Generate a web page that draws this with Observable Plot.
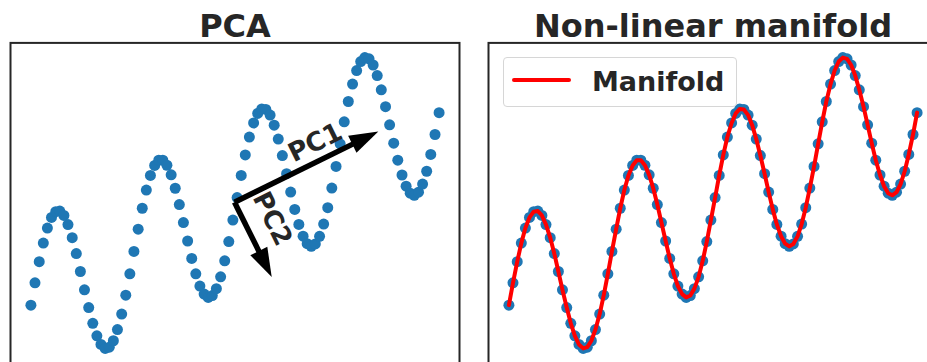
<!DOCTYPE html>
<html>
<head>
<meta charset="utf-8">
<script src="https://cdn.jsdelivr.net/npm/d3@7"></script>
<script src="https://cdn.jsdelivr.net/npm/@observablehq/plot@0.6"></script>
<style>
  html, body { margin: 0; padding: 0; background: #fff; overflow: hidden; }
  #wrap { position: relative; width: 927px; height: 362px; overflow: hidden; font-family: "DejaVu Sans", sans-serif; }
  .panel { position: absolute; top: 0; }
  .legend { position: absolute; left: 503px; top: 57px; width: 232px; height: 48px;
            border: 1px solid #d6d6d6; border-radius: 4px; background: rgba(255,255,255,0.85); }
  .legend .swatch { position: absolute; left: 8px; top: 20px; width: 59px; height: 3.5px; background: #ff0000; border-radius: 2px; }
  .legend .label { position: absolute; left: 88px; top: 7px; font: bold 27px "DejaVu Sans", sans-serif; color: #262626; line-height: 34px; }
</style>
</head>
<body>
<div id="wrap"></div>
<script>
// ---- data ----
const xs = [0, 0.25, 0.51, 0.76, 1.01, 1.26, 1.52, 1.77, 2.02, 2.27, 2.53, 2.78, 3.03, 3.28, 3.54, 3.79, 4.04, 4.29, 4.55, 4.80,
  5.05, 5.30, 5.56, 5.81, 6.06, 6.31, 6.57, 6.82, 7.07, 7.32, 7.58, 7.83, 8.08, 8.33, 8.59, 8.84, 9.09, 9.34, 9.60, 9.85,
  10.10, 10.35, 10.61, 10.86, 11.11, 11.36, 11.62, 11.87, 12.12, 12.37, 12.63, 12.88, 13.13, 13.38, 13.64, 13.89, 14.14, 14.39, 14.65, 14.90,
  15.15, 15.40, 15.66, 15.91, 16.16, 16.41, 16.67, 16.92, 17.17, 17.42, 17.68, 17.93, 18.18, 18.43, 18.69, 18.94, 19.19, 19.44, 19.70, 19.95,
  20.20, 20.45, 20.71, 20.96, 21.21, 21.46, 21.72, 21.97, 22.22, 22.47, 22.73, 22.98, 23.23, 23.48, 23.74, 23.99, 24.24, 24.49, 24.75, 25.00];
const ys = [0.000, 0.275, 0.535, 0.763, 0.948, 1.079, 1.150, 1.157, 1.103, 0.991, 0.830, 0.634, 0.414, 0.188, -0.030, -0.223, -0.378, -0.484, -0.532, -0.517,
  -0.438, -0.300, -0.110, 0.123, 0.385, 0.661, 0.935, 1.192, 1.416, 1.595, 1.719, 1.783, 1.783, 1.721, 1.603, 1.438, 1.237, 1.016, 0.789, 0.574,
  0.385, 0.235, 0.136, 0.095, 0.118, 0.203, 0.348, 0.545, 0.782, 1.046, 1.323, 1.595, 1.848, 2.068, 2.241, 2.358, 2.414, 2.407, 2.338, 2.214,
  2.043, 1.840, 1.617, 1.391, 1.178, 0.993, 0.848, 0.756, 0.723, 0.753, 0.846, 0.997, 1.199, 1.440, 1.707, 1.984, 2.255, 2.505, 2.719, 2.886,
  2.997, 3.045, 3.030, 2.954, 2.824, 2.649, 2.442, 2.218, 1.993, 1.783, 1.601, 1.463, 1.377, 1.351, 1.389, 1.489, 1.647, 1.854, 2.099, 2.368];

const panelTitles = ["PCA", "Non-linear manifold"];
const legendLabel = "Manifold";

const pcNames = ["PC1", "PC2"];
const pcOrigin = [12.5, 1.26];
const pcTipX = [21.31, 14.78];
const pcTipY = [2.13, 0.34];
const pcLabelX = [17.43, 14.85];
const pcLabelY = [2.0, 1.06];

const xDomain = [-1.25, 26.25];
const yDomain = [-0.713, 3.226];

// ---- drawing ----
const points = xs.map((x, i) => ({x, y: ys[i]}));
const ink = "#262626";

function pcArrows(index, scales) {
  const g = d3.create("svg:g");
  const x0 = scales.x(pcOrigin[0]), y0 = scales.y(pcOrigin[1]);
  pcNames.forEach((name, i) => {
    const x1 = scales.x(pcTipX[i]), y1 = scales.y(pcTipY[i]);
    const dx = x1 - x0, dy = y1 - y0, L = Math.hypot(dx, dy);
    const ux = dx / L, uy = dy / L, px = -uy, py = ux;
    const headLen = 29, headW = 19, shaftW = 5.5;
    const bx = x1 - ux * headLen, by = y1 - uy * headLen;
    g.append("line")
      .attr("x1", x0).attr("y1", y0)
      .attr("x2", bx + ux * 1).attr("y2", by + uy * 1)
      .attr("stroke", "black").attr("stroke-width", shaftW);
    g.append("polygon")
      .attr("points", [[x1, y1], [bx + px * headW / 2, by + py * headW / 2], [bx - px * headW / 2, by - py * headW / 2]].map(p => p.join(",")).join(" "))
      .attr("fill", "black");
    const lx = scales.x(pcLabelX[i]), ly = scales.y(pcLabelY[i]);
    const ang = Math.atan2(dy, dx) * 180 / Math.PI;
    g.append("text")
      .attr("transform", `translate(${lx},${ly}) rotate(${ang})`)
      .attr("text-anchor", "middle")
      .attr("dominant-baseline", "central")
      .attr("font-size", 26)
      .attr("font-weight", "bold")
      .attr("fill", ink)
      .text(name);
  });
  return g.node();
}

function panel(title, extra) {
  return Plot.plot({
    width: 470,
    height: 364,
    marginLeft: 10,
    marginRight: 11,
    marginTop: 42.4,
    marginBottom: 1.4,
    style: {fontFamily: "DejaVu Sans", background: "transparent", overflow: "visible"},
    x: {domain: xDomain, axis: null},
    y: {domain: yDomain, axis: null},
    marks: [
      Plot.dot(points, {x: "x", y: "y", r: 5.5, fill: "#1f77b4"}),
      ...extra,
      Plot.frame({stroke: ink, strokeWidth: 2}),
      Plot.text([title], {frameAnchor: "top", dy: -6, lineAnchor: "bottom", fontSize: 32, fontWeight: "bold", fill: ink})
    ]
  });
}

const wrap = document.getElementById("wrap");

const left = panel(panelTitles[0], [pcArrows]);
left.classList.add("panel");
left.style.left = "0px";
wrap.appendChild(left);

const right = panel(panelTitles[1], [
  Plot.line(points, {x: "x", y: "y", stroke: "#ff0000", strokeWidth: 4})
]);
right.classList.add("panel");
right.style.left = "478px";
wrap.appendChild(right);

const leg = document.createElement("div");
leg.className = "legend";
leg.innerHTML = `<div class="swatch"></div><div class="label"></div>`;
leg.querySelector(".label").textContent = legendLabel;
wrap.appendChild(leg);
</script>
</body>
</html>
